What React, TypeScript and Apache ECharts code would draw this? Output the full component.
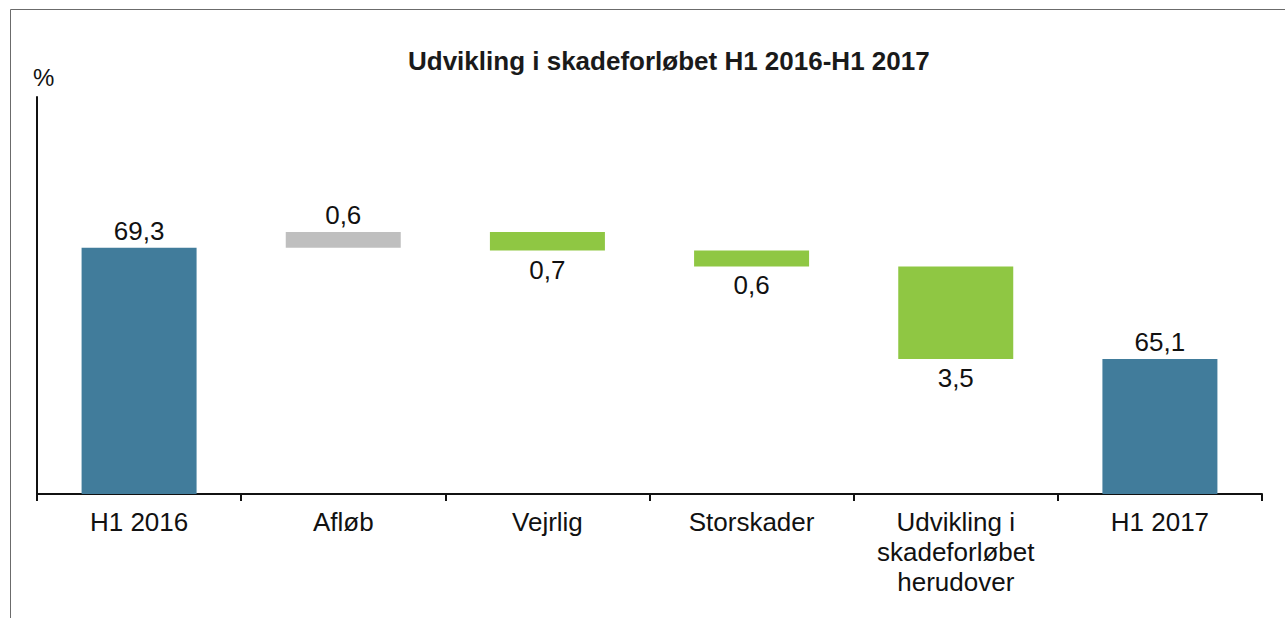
import React, { useEffect, useRef } from "react";
import * as echarts from "echarts";

const categories = [
  "H1 2016",
  "Afløb",
  "Vejrlig",
  "Storskader",
  "Udvikling i\nskadeforløbet\nherudover",
  "H1 2017",
];
// Totals (start / end), and changes between them
const totals: (number | null)[] = [69.3, null, null, null, null, 65.1];
const changes: (number | null)[] = [null, 0.6, -0.7, -0.6, -3.5, null];

const fmt = (v: number) => Math.abs(v).toFixed(1).replace(".", ",");

export default function App() {
  const ref = useRef<HTMLDivElement>(null);
  useEffect(() => {
    if (!ref.current) return;
    const chart = echarts.init(ref.current, undefined, { renderer: "svg" });

    // build waterfall stacks
    const base: (number | string)[] = [];
    const totalData: (number | string)[] = [];
    const incData: (number | string)[] = [];
    const decData: (number | string)[] = [];
    let running = 0;
    categories.forEach((_, i) => {
      const t = totals[i];
      const c = changes[i];
      if (t != null) {
        base.push(0);
        totalData.push(t);
        incData.push("-");
        decData.push("-");
        running = t;
      } else if (c != null) {
        if (c >= 0) {
          base.push(+running.toFixed(2));
          incData.push(c);
          decData.push("-");
          running = running + c;
        } else {
          running = running + c;
          base.push(+running.toFixed(2));
          decData.push(-c);
          incData.push("-");
        }
        totalData.push("-");
      }
    });

    const FONT = "Liberation Sans, Arial, sans-serif";
    const labelStyle = {
      show: true,
      fontSize: 26,
      color: "#111",
      fontFamily: FONT,
      distance: 4,
      formatter: (p: any) => fmt(p.value),
    };

    chart.setOption({
      animation: false,
      backgroundColor: "#fff",
      textStyle: { fontFamily: FONT },
      title: {
        text: "Udvikling i skadeforløbet H1 2016-H1 2017",
        left: 403,
        top: 43,
        textStyle: {
          fontSize: 26,
          fontWeight: "bold",
          color: "#1a1a1a",
          fontFamily: FONT,
        },
      },
      graphic: [
        {
          type: "rect",
          shape: { x: 10.5, y: 9.5, width: 1400, height: 800 },
          style: { fill: "none", stroke: "#6b6b6b", lineWidth: 1 },
          silent: true,
        },
        {
          type: "text",
          left: 33,
          top: 65,
          style: {
            text: "%",
            fontSize: 24,
            fill: "#111",
            fontFamily: FONT,
          },
        },
      ],
      grid: { left: 37, right: 23, top: 97, bottom: 124, containLabel: false },
      xAxis: {
        type: "category",
        data: categories,
        axisLine: { show: true, lineStyle: { color: "#111", width: 2 } },
        axisTick: { show: true, alignWithLabel: false, length: 7, lineStyle: { color: "#111", width: 2 } },
        axisLabel: {
          interval: 0,
          fontSize: 26,
          color: "#111",
          margin: 13,
          lineHeight: 30,
          fontFamily: FONT,
        },
        splitLine: { show: false },
      },
      yAxis: {
        type: "value",
        min: 60,
        max: 75,
        axisLine: { show: true, lineStyle: { color: "#111", width: 2 } },
        axisTick: { show: false },
        axisLabel: { show: false },
        splitLine: { show: false },
      },
      series: [
        {
          name: "base",
          type: "bar",
          stack: "w",
          barWidth: 115,
          itemStyle: { color: "transparent" },
          emphasis: { disabled: true },
          data: base,
        },
        {
          name: "total",
          type: "bar",
          stack: "w",
          barWidth: 115,
          itemStyle: { color: "#417C9B" },
          label: { ...labelStyle, position: "top" },
          data: totalData,
        },
        {
          name: "increase",
          type: "bar",
          stack: "w",
          barWidth: 115,
          itemStyle: { color: "#BFBFBF" },
          label: { ...labelStyle, position: "top" },
          data: incData,
        },
        {
          name: "decrease",
          type: "bar",
          stack: "w",
          barWidth: 115,
          itemStyle: { color: "#8FC743" },
          label: { ...labelStyle, position: "bottom", distance: 6 },
          data: decData,
        },
      ],
    });
    return () => chart.dispose();
  }, []);

  return (
    <div
      ref={ref}
      style={{ position: "absolute", left: 0, top: 0, width: 1285, height: 618 }}
    />
  );
}
